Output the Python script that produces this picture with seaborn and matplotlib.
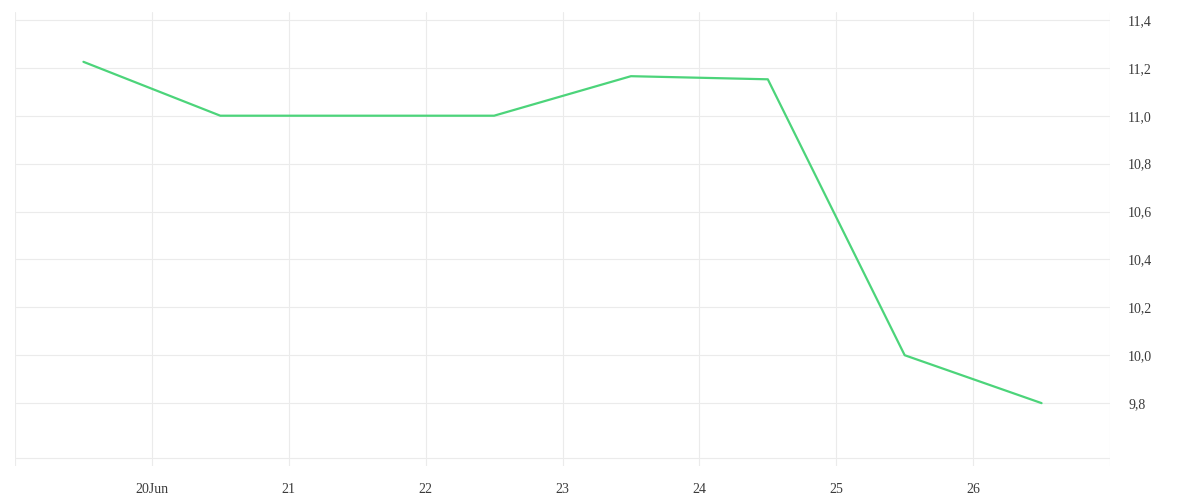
import numpy as np
import pandas as pd
import seaborn as sns
import matplotlib
matplotlib.use("Agg")
import matplotlib.pyplot as plt
import matplotlib.dates as mdates
from matplotlib.ticker import FixedLocator, FuncFormatter

# data (one point per day, at midday)
dates = pd.date_range("2023-06-19 12:00", periods=8, freq="D")
values = [11.225, 11.0, 11.0, 11.0, 11.165, 11.152, 10.0, 9.8]

ytick_vals = [9.8, 10.0, 10.2, 10.4, 10.6, 10.8, 11.0, 11.2, 11.4]
day_ticks = pd.date_range("2023-06-20", periods=7, freq="D")
day_labels = ["20Jun", "21", "22", "23", "24", "25", "26"]

df = pd.DataFrame({"date": dates, "value": values})

sns.set_style("white")
plt.rcParams["font.family"] = ["Liberation Serif", "DejaVu Serif"]

fig = plt.figure(figsize=(12, 5), dpi=100)
ax = fig.add_axes([15 / 1200, 34 / 500, 1095 / 1200, 454 / 500])

grid_col = "#ebebeb"
sns.lineplot(data=df, x="date", y="value", ax=ax, color="#4cd47a", linewidth=1.6)

ax.set_xlim(pd.Timestamp("2023-06-19"), pd.Timestamp("2023-06-27"))
ax.set_ylim(9.5375, 11.433)

# vertical grid on every day incl. the edges
for d in pd.date_range("2023-06-19", periods=9, freq="D"):
    ax.axvline(d, color=grid_col, linewidth=0.8, zorder=0)
for v in ytick_vals + [9.571]:
    ax.axhline(v, color=grid_col, linewidth=0.8, zorder=0)

ax.xaxis.set_major_locator(FixedLocator(mdates.date2num(day_ticks)))
ax.set_xticklabels(day_labels)
ax.yaxis.tick_right()
ax.set_yticks(ytick_vals)
ax.yaxis.set_major_formatter(FuncFormatter(lambda v, p: f"{v:.1f}".replace(".", ",")))
ax.tick_params(axis="both", length=0, labelsize=10, colors="#3a3a3a")
ax.tick_params(axis="x", pad=12)
ax.tick_params(axis="y", pad=13)
for lbl in ax.get_yticklabels():
    lbl.set_horizontalalignment("left")

ax.set_xlabel("")
ax.set_ylabel("")
for s in ax.spines.values():
    s.set_visible(False)

fig.savefig("out.png", dpi=100)
